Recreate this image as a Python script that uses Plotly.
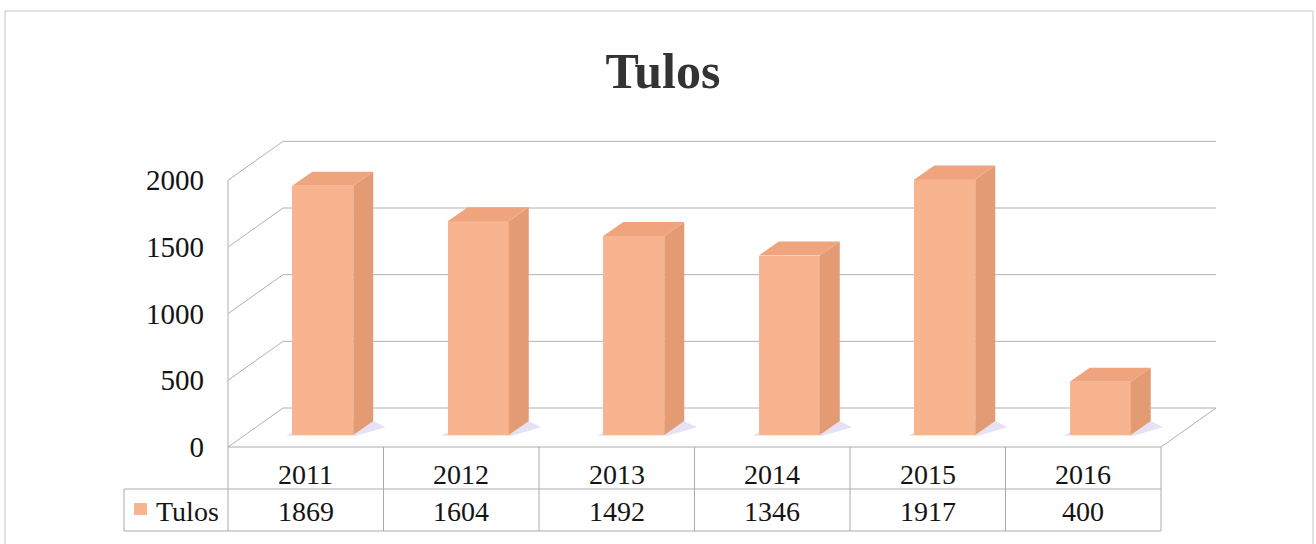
import plotly.graph_objects as go

# ---------------- data ----------------
years = ["2011", "2012", "2013", "2014", "2015", "2016"]
values = [1869, 1604, 1492, 1346, 1917, 400]
series_name = "Tulos"
chart_title = "Tulos"
tick_values = [0, 500, 1000, 1500, 2000]

# ---------------- geometry / style ----------------
W, H = 1316, 544
CAT_PX = 155.5          # pixel width of one category
AXIS_X_PX = 228         # pixel x of front-left axis
FLOOR_Y_PX = 447        # pixel y of value 0 on the front plane
UNITS_PER_PX = 7.5      # value units per pixel

X0 = -0.5 - AXIS_X_PX / CAT_PX
X1 = X0 + W / CAT_PX
Y1 = FLOOR_Y_PX * UNITS_PER_PX
Y0 = Y1 - H * UNITS_PER_PX


def px_x(px):
    return X0 + px / CAT_PX


def px_y(py):
    return Y1 - py * UNITS_PER_PX


WALL_DX = 55 / CAT_PX
WALL_DY = 39 * UNITS_PER_PX
BAR_SHIFT_X = 17 / CAT_PX
BAR_BASE = 12 * UNITS_PER_PX
BAR_W = 61 / CAT_PX
BAR_DX = 20 / CAT_PX
BAR_DY = 14 * UNITS_PER_PX

C_FRONT = "#F8B48E"
C_SIDE = "#E39B74"
C_TOP = "#EFA47E"
C_SHADOW = "#E6E2F3"
C_GRID = "#b0b0b0"
C_TABLE = "#ababab"
FONT = "Liberation Serif"
TXT = "#141414"

n = len(years)
left = -0.5
right = n - 0.5

shapes = []


def line(xa, ya, xb, yb, color=C_GRID, width=1, layer="below"):
    shapes.append(dict(type="line", xref="x", yref="y", x0=xa, y0=ya, x1=xb, y1=yb,
                       line=dict(color=color, width=width), layer=layer))


# back wall gridlines and side wall diagonals
for v in tick_values:
    line(left + WALL_DX, v + WALL_DY, right + WALL_DX, v + WALL_DY)
    line(left, v, left + WALL_DX, v + WALL_DY)
# front vertical axis line
line(left, 0, left, tick_values[-1])
# floor right edge
line(right, 0, right + WALL_DX, WALL_DY)

# data table
row_mid = px_y(489)
row_bot = px_y(531)
legend_left = px_x(124)
line(left, 0, right, 0, C_TABLE, layer="above")
line(legend_left, row_mid, right, row_mid, C_TABLE, layer="above")
line(legend_left, row_bot, right, row_bot, C_TABLE, layer="above")
line(legend_left, row_mid, legend_left, row_bot, C_TABLE, layer="above")
for k in range(n + 1):
    line(left + k, 0, left + k, row_bot, C_TABLE, layer="above")

# legend key square in the table
shapes.append(dict(type="rect", xref="x", yref="y",
                   x0=px_x(134), x1=px_x(147), y0=px_y(515), y1=px_y(503),
                   fillcolor=C_FRONT, line=dict(width=0), layer="above"))

# bar shadows
for i, v in enumerate(values):
    xl = i + BAR_SHIFT_X - BAR_W / 2
    xr = i + BAR_SHIFT_X + BAR_W / 2
    b = BAR_BASE
    path = (f"M {xl - 0.04},{b - 6} L {xr + 0.02},{b - 6} "
            f"L {xr + BAR_DX + 0.08},{b + BAR_DY * 0.55} L {xr + BAR_DX},{b + BAR_DY} "
            f"L {xl + BAR_DX},{b + BAR_DY} Z")
    shapes.append(dict(type="path", xref="x", yref="y", path=path,
                       fillcolor=C_SHADOW, line=dict(width=0), layer="below"))

# outer chart border
shapes.append(dict(type="rect", xref="paper", yref="paper",
                   x0=5 / W, x1=1313 / W, y0=-0.1, y1=1 - 11 / H,
                   line=dict(color="#c4c4c4", width=1), layer="below"))

fig = go.Figure()

# front faces
fig.add_trace(go.Bar(
    x=[i + BAR_SHIFT_X for i in range(n)], y=values, base=BAR_BASE, width=BAR_W,
    marker=dict(color=C_FRONT, line=dict(width=0)), name=series_name,
    hoverinfo="skip", showlegend=False))

# side and top faces
side_x, side_y, top_x, top_y = [], [], [], []
for i, v in enumerate(values):
    xl = i + BAR_SHIFT_X - BAR_W / 2
    xr = i + BAR_SHIFT_X + BAR_W / 2
    top = BAR_BASE + v
    side_x += [xr, xr, xr + BAR_DX, xr + BAR_DX, xr, None]
    side_y += [BAR_BASE, top, top + BAR_DY, BAR_BASE + BAR_DY, BAR_BASE, None]
    top_x += [xl, xr, xr + BAR_DX, xl + BAR_DX, xl, None]
    top_y += [top, top, top + BAR_DY, top + BAR_DY, top, None]

fig.add_trace(go.Scatter(x=side_x, y=side_y, fill="toself", fillcolor=C_SIDE,
                         mode="none", hoverinfo="skip", showlegend=False))
fig.add_trace(go.Scatter(x=top_x, y=top_y, fill="toself", fillcolor=C_TOP,
                         mode="none", hoverinfo="skip", showlegend=False))

annotations = []
row1_y = px_y(474)
row2_y = px_y(511)
for i, (yr, v) in enumerate(zip(years, values)):
    annotations.append(dict(x=i, y=row1_y, xref="x", yref="y", text=yr, showarrow=False,
                            font=dict(family=FONT, size=28, color=TXT)))
    annotations.append(dict(x=i, y=row2_y, xref="x", yref="y", text=f"{v}", showarrow=False,
                            font=dict(family=FONT, size=28, color=TXT)))
annotations.append(dict(x=px_x(154), y=row2_y, xref="x", yref="y", text=series_name,
                        showarrow=False, xanchor="left",
                        font=dict(family=FONT, size=28, color=TXT)))

fig.update_layout(
    width=W, height=H,
    margin=dict(l=0, r=0, t=0, b=0),
    paper_bgcolor="white", plot_bgcolor="white",
    title=dict(text=f"<b>{chart_title}</b>", x=663 / W, y=1 - 70 / H,
               xanchor="center", yanchor="middle",
               font=dict(family=FONT, size=50, color="#333333")),
    xaxis=dict(range=[X0, X1], visible=False, fixedrange=True),
    yaxis=dict(range=[Y0, Y1], anchor="free", position=AXIS_X_PX / W,
               tickvals=tick_values, ticktext=[str(t) for t in tick_values],
               showgrid=False, zeroline=False, showline=False, ticks="",
               ticklabelstandoff=24,
               tickfont=dict(family=FONT, size=29, color=TXT), fixedrange=True),
    shapes=shapes,
    annotations=annotations,
    bargap=0,
    showlegend=False,
)

fig.write_html(
    "out.html",
    config={"displayModeBar": False},
    post_script="document.body.style.margin='0';document.body.style.overflow='hidden';",
)
